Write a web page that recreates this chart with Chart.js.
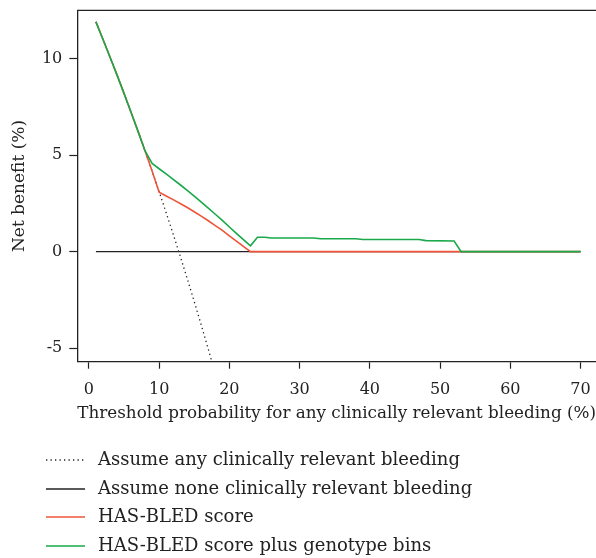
<!DOCTYPE html>
<html>
<head>
<meta charset="utf-8">
<script src="https://cdn.jsdelivr.net/npm/chart.js@4.4.1/dist/chart.umd.min.js"></script>
<style>
  html, body { margin: 0; padding: 0; background: #fff; }
  #wrap { width: 596px; height: 558px; position: relative; }
</style>
</head>
<body>
<div id="wrap"><canvas id="dca"></canvas></div>
<script>
// Decision curve data (net benefit in %, threshold in %)
const treatAllX = [1, 2, 3, 4, 5, 6, 7, 8, 9, 10, 11, 12, 13, 14, 15, 16, 17, 18];
const treatAllY = [11.92, 11.02, 10.10, 9.17, 8.21, 7.23, 6.24, 5.22, 4.18, 3.11, 2.02, 0.91, -0.23, -1.40, -2.59, -3.81, -5.06, -6.34];

const treatNoneX = [1, 70];
const treatNoneY = [0, 0];

const hasBledX = [1, 2, 3, 4, 5, 6, 7, 8, 9, 10, 11, 12, 13, 14, 15, 16, 17, 18, 19, 20, 21, 22, 23, 53, 70];
const hasBledY = [11.92, 11.02, 10.10, 9.17, 8.21, 7.23, 6.24, 5.22, 4.18, 3.08, 2.89, 2.70, 2.50, 2.29, 2.07, 1.84, 1.60, 1.35, 1.10, 0.82, 0.55, 0.27, 0, 0, 0];

const genoX = [1, 2, 3, 4, 5, 6, 7, 8, 9, 10, 11, 12, 13, 14, 15, 16, 17, 18, 19, 20, 21, 22, 23, 24, 25, 26, 32, 33, 38, 39, 47, 48, 52, 53, 70];
const genoY = [11.92, 11.02, 10.10, 9.17, 8.21, 7.23, 6.24, 5.22, 4.58, 4.30, 4.03, 3.75, 3.47, 3.18, 2.88, 2.57, 2.26, 1.94, 1.62, 1.28, 0.95, 0.62, 0.30, 0.75, 0.75, 0.71, 0.71, 0.67, 0.67, 0.63, 0.63, 0.57, 0.55, 0, 0];

const xTicks = [0, 10, 20, 30, 40, 50, 60, 70];
const yTicks = [-5, 0, 5, 10];

const legendLabels = [
    'Assume any clinically relevant bleeding',
    'Assume none clinically relevant bleeding',
    'HAS-BLED score',
    'HAS-BLED score plus genotype bins'
];

const RED = '#ee5538';
const GREEN = '#19a94a';
const INK = '#222222';
const SERIF = '"DejaVu Serif", "Liberation Serif", serif';

function toPoints(xs, ys) {
    return xs.map((x, i) => ({ x: x, y: ys[i] }));
}

// Box border on top (R-style box, right side falls off the picture)
const topBorder = {
    id: 'topBorder',
    afterDraw(chart) {
        const { ctx, chartArea } = chart;
        ctx.save();
        ctx.strokeStyle = INK;
        ctx.lineWidth = 1.3;
        ctx.beginPath();
        ctx.moveTo(chartArea.left, chartArea.top);
        ctx.lineTo(chartArea.right, chartArea.top);
        ctx.stroke();
        ctx.restore();
    }
};

// Legend below the axis title, one entry per row
const rowLegend = {
    id: 'rowLegend',
    afterDraw(chart) {
        const ctx = chart.ctx;
        const rows = [460, 489, 517, 546];
        ctx.save();
        ctx.font = '18px ' + SERIF;
        ctx.textBaseline = 'middle';
        ctx.fillStyle = INK;
        legendLabels.forEach((label, i) => {
            const ds = chart.data.datasets.find(d => d.label === label);
            ctx.strokeStyle = ds.borderColor;
            ctx.lineWidth = ds.borderWidth;
            ctx.setLineDash(ds.borderDash || []);
            ctx.beginPath();
            ctx.moveTo(46, rows[i]);
            ctx.lineTo(85, rows[i]);
            ctx.stroke();
            ctx.setLineDash([]);
            ctx.fillText(label, 98, rows[i]);
        });
        ctx.restore();
    }
};

const ctx = document.getElementById('dca').getContext('2d');
new Chart(ctx, {
    type: 'line',
    data: {
        datasets: [
            {
                label: legendLabels[3],
                data: toPoints(genoX, genoY),
                borderColor: GREEN,
                borderWidth: 1.6,
                order: 0
            },
            {
                label: legendLabels[2],
                data: toPoints(hasBledX, hasBledY),
                borderColor: RED,
                borderWidth: 1.6,
                order: 1
            },
            {
                label: legendLabels[1],
                data: toPoints(treatNoneX, treatNoneY),
                borderColor: INK,
                borderWidth: 1.3,
                order: 2
            },
            {
                label: legendLabels[0],
                data: toPoints(treatAllX, treatAllY),
                borderColor: INK,
                borderWidth: 1.3,
                borderDash: [1.3, 3.2],
                order: 3
            }
        ]
    },
    options: {
        responsive: true,
        maintainAspectRatio: false,
        animation: false,
        layout: { padding: { top: 10.3, right: 0, bottom: 0, left: 0 } },
        elements: {
            point: { radius: 0 },
            line: { tension: 0, fill: false }
        },
        plugins: {
            legend: { display: false },
            tooltip: { enabled: false }
        },
        scales: {
            x: {
                type: 'linear',
                min: -1.65,
                max: 72.2,
                afterBuildTicks: (axis) => { axis.ticks = xTicks.map(v => ({ value: v })); },
                afterFit: (axis) => {
                    axis.height = 196.3;
                    axis.paddingLeft = 0;
                    axis.paddingRight = 0;
                },
                grid: { drawOnChartArea: false, tickLength: 7, color: INK, tickWidth: 1.2 },
                border: { display: true, color: INK, width: 1.3 },
                ticks: { color: INK, padding: 12, font: { family: SERIF, size: 16 }, maxRotation: 0 },
                title: {
                    display: true,
                    text: 'Threshold probability for any clinically relevant bleeding (%)',
                    color: INK,
                    font: { family: SERIF, size: 17 },
                    padding: { top: 0, bottom: 134 }
                }
            },
            y: {
                type: 'linear',
                min: -5.71,
                max: 12.52,
                afterBuildTicks: (axis) => { axis.ticks = yTicks.map(v => ({ value: v })); },
                afterFit: (axis) => {
                    axis.width = 77.3;
                    axis.paddingTop = 0;
                    axis.paddingBottom = 0;
                },
                grid: { drawOnChartArea: false, tickLength: 8, color: INK, tickWidth: 1.2 },
                border: { display: true, color: INK, width: 1.3 },
                ticks: { color: INK, padding: 7, font: { family: SERIF, size: 16 } },
                title: {
                    display: true,
                    text: 'Net benefit (%)',
                    color: INK,
                    font: { family: SERIF, size: 17 },
                    padding: { top: 9, bottom: 0 }
                }
            }
        }
    },
    plugins: [topBorder, rowLegend]
});
</script>
</body>
</html>
